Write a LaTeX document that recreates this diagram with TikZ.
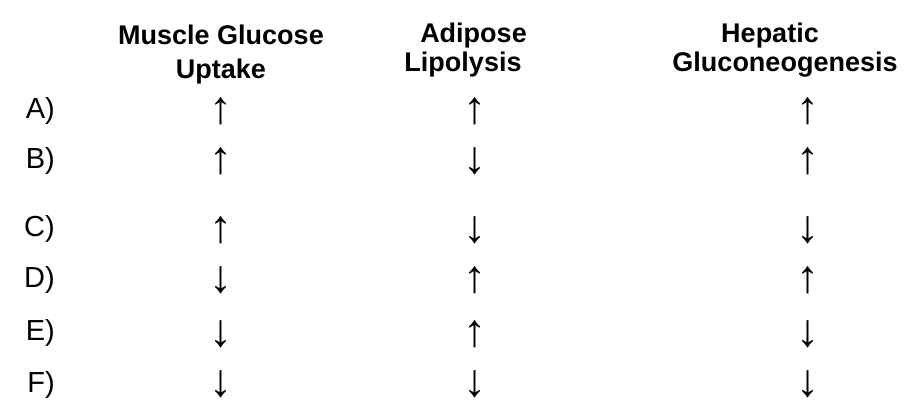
\documentclass[tikz,border=0pt]{standalone}
\usepackage{fontspec}
\setmainfont{Liberation Sans}
\begin{document}
\begin{tikzpicture}[x=1pt,y=-1pt,
  hdr/.style={inner sep=0pt,anchor=base,font=\fontsize{27}{32}\selectfont\bfseries},
  lbl/.style={inner sep=0pt,anchor=base east,font=\fontsize{29}{34}\selectfont},
  arr/.style={inner sep=0pt,anchor=center,font=\fontsize{46}{50}\selectfont}]
\useasboundingbox[fill=white] (0,0) rectangle (923,418);
% headers
\node[hdr] (h1a) at (221,44) {Muscle Glucose};
\node[hdr] (h1b) at (221,78) {Uptake};
\node[hdr] (h2a) at (473.5,42) {Adipose};
\node[hdr] (h2b) at (463,71) {Lipolysis};
\node[hdr] (h3a) at (770,42) {Hepatic};
\node[hdr] (h3b) at (785,71) {Gluconeogenesis};
% row labels
\node[lbl] (la) at (55,118) {A)};
\node[lbl] (lb) at (55,168) {B)};
\node[lbl] (lc) at (55,236) {C)};
\node[lbl] (ld) at (55,287) {D)};
\node[lbl] (le) at (55,340) {E)};
\node[lbl] (lf) at (55,392) {F)};
% column 1
\node[arr] (a1) at (221,111) {↑};
\node[arr] (b1) at (221,161) {↑};
\node[arr] (c1) at (221,230) {↑};
\node[arr] (d1) at (221,280) {↓};
\node[arr] (e1) at (221,334) {↓};
\node[arr] (f1) at (221,384) {↓};
% column 2
\node[arr] (a2) at (475,111) {↑};
\node[arr] (b2) at (475,161) {↓};
\node[arr] (c2) at (475,230) {↓};
\node[arr] (d2) at (475,280) {↑};
\node[arr] (e2) at (475,334) {↑};
\node[arr] (f2) at (475,384) {↓};
% column 3
\node[arr] (a3) at (808,111) {↑};
\node[arr] (b3) at (808,161) {↑};
\node[arr] (c3) at (808,230) {↓};
\node[arr] (d3) at (808,280) {↑};
\node[arr] (e3) at (808,334.5) {↓};
\node[arr] (f3) at (808,384) {↓};
\end{tikzpicture}
\end{document}
